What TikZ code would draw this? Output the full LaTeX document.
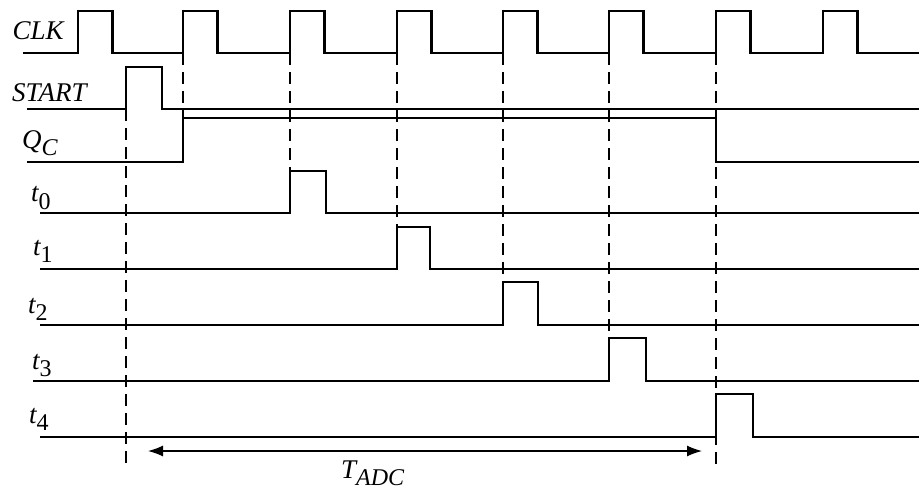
\documentclass[tikz,border=0pt]{standalone}
\usepackage{fontspec}
\setmainfont{Liberation Serif}
\usetikzlibrary{arrows.meta}
\newcommand{\lowsub}[1]{\raisebox{-7.5pt}{\fontsize{24}{24}\selectfont #1}}
\newcommand{\lownum}[1]{\raisebox{-7.5pt}{\fontsize{24}{24}\selectfont\upshape #1}}
\begin{document}
\begin{tikzpicture}[x=1pt,y=-1pt,
  sig/.style={line width=2.3pt, line join=miter},
  guide/.style={line width=2pt, dash pattern=on 12pt off 7pt},
  lbl/.style={anchor=base west, inner sep=0pt, font=\fontsize{27}{27}\selectfont\itshape},
  dimline/.style={line width=1.3pt, {Latex[length=15pt,width=11pt]}-{Latex[length=15pt,width=11pt]}}]
\useasboundingbox (0,0) rectangle (919,491);

% guide coordinates
\coordinate (g0a) at (126,109);  \coordinate (g0b) at (126,466);
\coordinate (g1a) at (183,53);   \coordinate (g1b) at (183,118);
\coordinate (g2a) at (290,53);   \coordinate (g2b) at (290,171);
\coordinate (g3a) at (397,53);   \coordinate (g3b) at (397,227);
\coordinate (g4a) at (503,53);   \coordinate (g4b) at (503,282);
\coordinate (g5a) at (609,53);   \coordinate (g5b) at (609,338);
\coordinate (g6a) at (716,53);   \coordinate (g6b) at (716,466);

% dashed guides
\foreach \i in {0,...,6} { \draw[guide] (g\i a) -- (g\i b); }

% CLK
\draw[sig] (23,53) foreach \r in {78,183,290,397,503,609,716,823}
  { -- (\r,53) -- (\r,11) -- (\r+34.5,11) -- (\r+34.5,53) } -- (919,53);
% START
\draw[sig] (27,109) -- (126,109) -- (126,67) -- (162,67) -- (162,109) -- (919,109);
% Q_C
\draw[sig] (27,162) -- (183,162) -- (183,118) -- (716,118) -- (716,162) -- (919,162);
% t0..t4
\draw[sig] (40,213) -- (290,213) -- (290,171) -- (326,171) -- (326,213) -- (919,213);
\draw[sig] (40,269) -- (397,269) -- (397,227) -- (430,227) -- (430,269) -- (919,269);
\draw[sig] (40,325) -- (503,325) -- (503,282) -- (538,282) -- (538,325) -- (919,325);
\draw[sig] (33,381) -- (609,381) -- (609,338) -- (646,338) -- (646,381) -- (919,381);
\draw[sig] (40,437) -- (716,437) -- (716,394) -- (753,394) -- (753,437) -- (919,437);

% labels
\node[lbl] (lclk) at (12.5,39) {CLK};
\node[lbl] (lstart) at (12,101.5) {START};
\node[lbl] (lq) at (22,148) {Q\lowsub{C}};
\node[lbl] (lt0) at (31,201.5) {t\lownum{0}};
\node[lbl] (lt1) at (33,255) {t\lownum{1}};
\node[lbl] (lt2) at (28,313) {t\lownum{2}};
\node[lbl] (lt3) at (32,369) {t\lownum{3}};
\node[lbl] (lt4) at (29,423) {t\lownum{4}};

% T_ADC dimension
\coordinate (aL) at (148,451);
\coordinate (aR) at (702,451);
\draw[dimline] (aL) -- (aR);
\node[lbl] (ltadc) at (341,478) {T\lowsub{ADC}};
\end{tikzpicture}
\end{document}
